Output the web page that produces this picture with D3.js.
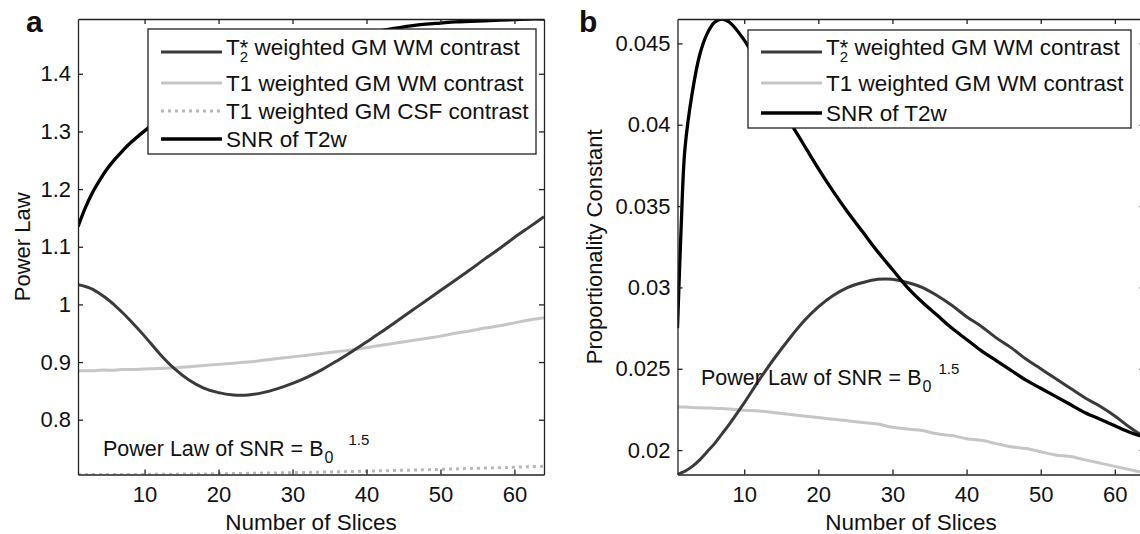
<!DOCTYPE html>
<html>
<head>
<meta charset="utf-8">
<script src="https://cdn.jsdelivr.net/npm/d3@7"></script>
<style>
    body { margin: 0; background: #fff; }
    svg { display: block; font-family: "Liberation Sans", Arial, sans-serif; }
    .axis path, .axis line { stroke: #222; stroke-width: 1.3; }
    .axis text { font-size: 22px; fill: #111; font-family: "Liberation Sans", Arial, sans-serif; }
</style>
</head>
<body>
<div id="chart"></div>
<script>
// panel a: power law vs number of slices
const slicesA = [1, 2, 3, 4, 5, 6, 7, 8, 10, 12, 14, 16, 18, 20, 22, 24, 26, 28, 30, 32, 34, 36, 38, 40, 42, 44, 46, 48, 50, 52, 54, 56, 58, 60, 62, 64];
const t2starA = [1.034, 1.031, 1.026, 1.018, 1.009, 0.998, 0.986, 0.973, 0.945, 0.915, 0.889, 0.869, 0.855, 0.847, 0.843, 0.843, 0.847, 0.854, 0.863, 0.874, 0.887, 0.902, 0.918, 0.935, 0.952, 0.97, 0.988, 1.006, 1.024, 1.042, 1.06, 1.079, 1.097, 1.116, 1.134, 1.152];
const t1wmA = [0.885, 0.885, 0.885, 0.886, 0.886, 0.886, 0.887, 0.887, 0.888, 0.889, 0.89, 0.892, 0.894, 0.896, 0.898, 0.9, 0.903, 0.906, 0.909, 0.912, 0.915, 0.918, 0.921, 0.925, 0.929, 0.933, 0.937, 0.941, 0.945, 0.95, 0.954, 0.959, 0.963, 0.968, 0.973, 0.977];
const t1csfA = [0.705, 0.705, 0.705, 0.705, 0.705, 0.705, 0.705, 0.705, 0.7052, 0.7054, 0.7056, 0.7058, 0.706, 0.7063, 0.7066, 0.707, 0.7074, 0.7078, 0.7082, 0.7087, 0.7092, 0.7097, 0.7102, 0.7108, 0.7114, 0.712, 0.7126, 0.7133, 0.714, 0.7147, 0.7154, 0.7161, 0.7169, 0.7177, 0.7185, 0.7193];
const snrA = [1.135, 1.168, 1.195, 1.217, 1.236, 1.252, 1.266, 1.279, 1.301, 1.321, 1.339, 1.355, 1.37, 1.383, 1.395, 1.406, 1.416, 1.425, 1.434, 1.442, 1.45, 1.457, 1.464, 1.47, 1.475, 1.479, 1.483, 1.486, 1.488, 1.49, 1.491, 1.492, 1.493, 1.494, 1.495, 1.495];

// panel b: proportionality constant vs number of slices
const slicesB = [1, 1.5, 2, 3, 4, 5, 6, 7, 8, 10, 12, 14, 16, 18, 20, 22, 24, 26, 28, 30, 32, 34, 36, 38, 40, 42, 44, 46, 48, 50, 52, 54, 56, 58, 60, 62, 64];
const t2starB = [0.0185, 0.0186, 0.0187, 0.019, 0.0194, 0.0199, 0.0204, 0.021, 0.0216, 0.0229, 0.0243, 0.0256, 0.0268, 0.0279, 0.0288, 0.0295, 0.03, 0.0303, 0.0305, 0.0305, 0.0303, 0.03, 0.0295, 0.0289, 0.0282, 0.0276, 0.0269, 0.0263, 0.0256, 0.025, 0.0244, 0.0238, 0.0232, 0.0227, 0.0221, 0.0214, 0.0208];
const t1wmB = [0.02265, 0.02265, 0.02265, 0.02262, 0.0226, 0.02259, 0.02258, 0.02256, 0.02253, 0.02245, 0.0224, 0.0223, 0.0222, 0.0221, 0.022, 0.0219, 0.0218, 0.0217, 0.0216, 0.0214, 0.0213, 0.0212, 0.021, 0.0209, 0.0207, 0.0206, 0.0204, 0.0202, 0.0201, 0.0199, 0.0197, 0.0196, 0.0194, 0.0192, 0.019, 0.0188, 0.0186];
const snrB = [0.0275, 0.0338, 0.0385, 0.042, 0.0443, 0.0456, 0.0463, 0.0465, 0.0463, 0.0452, 0.0436, 0.0419, 0.0403, 0.0388, 0.0373, 0.0359, 0.0346, 0.0334, 0.0322, 0.0311, 0.03, 0.0291, 0.0283, 0.0275, 0.0268, 0.0261, 0.0255, 0.0249, 0.0243, 0.0238, 0.0233, 0.0228, 0.0223, 0.0219, 0.0215, 0.0211, 0.0208];

const xTicks = [10, 20, 30, 40, 50, 60];
const yTicksA = [0.8, 0.9, 1, 1.1, 1.2, 1.3, 1.4];
const yTicksB = [0.02, 0.025, 0.03, 0.035, 0.04, 0.045];

const width = 1140, height = 534;

const svg = d3.select("#chart").append("svg")
    .attr("width", width)
    .attr("height", height);

svg.append("rect").attr("width", width).attr("height", height).attr("fill", "#fff");

const styles = {
    t2star: { stroke: "#3a3a3a", width: 3, dash: null },
    t1wm: { stroke: "#c6c6c6", width: 3, dash: null },
    t1csf: { stroke: "#b8b8b8", width: 3, dash: "3,4" },
    snr: { stroke: "#000", width: 3.3, dash: null }
};

function drawPanel(p) {
    const x = d3.scaleLinear().domain([1, 64]).range([p.left, p.right]);
    const y = d3.scaleLinear().domain(p.yDomain).range([p.bottom, p.top]);

    const clipId = "clip-" + p.letter;
    svg.append("clipPath").attr("id", clipId)
        .append("rect")
        .attr("x", p.left).attr("y", p.top)
        .attr("width", p.right - p.left).attr("height", p.bottom - p.top);

    const line = d3.line()
        .x(d => x(d[0]))
        .y(d => y(d[1]))
        .curve(d3.curveCatmullRom.alpha(0.5));

    const plot = svg.append("g").attr("clip-path", "url(#" + clipId + ")");
    p.series.forEach(s => {
        const st = styles[s.key];
        plot.append("path")
            .datum(p.slices.map((v, i) => [v, s.values[i]]))
            .attr("d", line)
            .attr("fill", "none")
            .attr("stroke", st.stroke)
            .attr("stroke-width", st.width)
            .attr("stroke-dasharray", st.dash)
            .attr("stroke-linejoin", "round");
    });

    // box with inward ticks on all sides (matlab style)
    svg.append("g").attr("class", "axis")
        .attr("transform", "translate(0," + p.bottom + ")")
        .call(d3.axisBottom(x).tickValues(xTicks).tickSizeInner(-5).tickSizeOuter(0).tickPadding(12));
    svg.append("g").attr("class", "axis")
        .attr("transform", "translate(0," + p.top + ")")
        .call(d3.axisTop(x).tickValues(xTicks).tickSizeInner(-5).tickSizeOuter(0).tickFormat(""));
    svg.append("g").attr("class", "axis")
        .attr("transform", "translate(" + p.left + ",0)")
        .call(d3.axisLeft(y).tickValues(p.yTicks).tickSizeInner(-5).tickSizeOuter(0).tickPadding(7).tickFormat(d3.format("~g")));
    svg.append("g").attr("class", "axis")
        .attr("transform", "translate(" + p.right + ",0)")
        .call(d3.axisRight(y).tickValues(p.yTicks).tickSizeInner(-5).tickSizeOuter(0).tickFormat(""));

    svg.append("text")
        .attr("x", (p.left + p.right) / 2)
        .attr("y", 530)
        .attr("text-anchor", "middle")
        .style("font-size", "22.5px")
        .style("fill", "#111")
        .text("Number of Slices");

    svg.append("text")
        .attr("transform", "translate(" + p.yLabelX + "," + ((p.top + p.bottom) / 2) + ") rotate(-90)")
        .attr("text-anchor", "middle")
        .style("font-size", "22px")
        .style("fill", "#111")
        .text(p.yLabel);

    svg.append("text")
        .attr("x", p.letterX).attr("y", 32)
        .style("font-size", "30px")
        .style("font-weight", "bold")
        .style("fill", "#111")
        .text(p.letter);

    // power law annotation
    const note = svg.append("text")
        .attr("x", p.noteX).attr("y", p.noteY)
        .style("font-size", "21.5px")
        .style("fill", "#111");
    note.append("tspan").text("Power Law of SNR = B");
    note.append("tspan").attr("dy", 7).attr("dx", 1).style("font-size", "16px").text("0");
    note.append("tspan").attr("dy", -18).attr("dx", p.noteSupDx).style("font-size", "15px").text("1.5");

    // legend
    const lg = p.legend;
    svg.append("rect")
        .attr("x", lg.x).attr("y", lg.y)
        .attr("width", lg.w).attr("height", lg.h)
        .attr("fill", "#fff")
        .attr("stroke", "#222")
        .attr("stroke-width", 1.3);

    p.series.slice().sort((a, b) => a.order - b.order).forEach((s, i) => {
        const st = styles[s.key];
        svg.append("line")
            .attr("x1", lg.x + 13).attr("x2", lg.x + 74)
            .attr("y1", lg.rows[i]).attr("y2", lg.rows[i])
            .attr("stroke", st.stroke)
            .attr("stroke-width", st.width)
            .attr("stroke-dasharray", st.dash);
        const t = svg.append("text")
            .attr("x", lg.x + 78).attr("y", lg.baselines[i])
            .style("font-size", "22.5px")
            .style("fill", "#111");
        if (s.key === "t2star") {
            t.append("tspan").text("T");
            t.append("tspan").attr("dy", 7).style("font-size", "15px").text("2");
            t.append("tspan").attr("dy", -7).attr("dx", -8.5).text("*");
            t.append("tspan").text(" weighted GM WM contrast");
        } else {
            t.text(s.label);
        }
    });
}

drawPanel({
    letter: "a", letterX: 26,
    left: 78, right: 544, top: 19, bottom: 474.5,
    yDomain: [0.705, 1.495], yTicks: yTicksA,
    yLabel: "Power Law", yLabelX: 30,
    slices: slicesA,
    series: [
        { key: "t1csf", values: t1csfA, order: 2, label: "T1 weighted GM CSF contrast" },
        { key: "t1wm", values: t1wmA, order: 1, label: "T1 weighted GM WM contrast" },
        { key: "t2star", values: t2starA, order: 0, label: "T2* weighted GM WM contrast" },
        { key: "snr", values: snrA, order: 3, label: "SNR of T2w" }
    ],
    noteX: 103, noteY: 456, noteSupDx: 15,
    legend: { x: 148, y: 29, w: 388, h: 125, rows: [52, 83, 111, 139], baselines: [55, 91, 119, 147] }
});

drawPanel({
    letter: "b", letterX: 579,
    left: 677.5, right: 1144.5, top: 19, bottom: 474.5,
    yDomain: [0.0185, 0.0465], yTicks: yTicksB,
    yLabel: "Proportionality Constant", yLabelX: 602,
    slices: slicesB,
    series: [
        { key: "t1wm", values: t1wmB, order: 1, label: "T1 weighted GM WM contrast" },
        { key: "t2star", values: t2starB, order: 0, label: "T2* weighted GM WM contrast" },
        { key: "snr", values: snrB, order: 2, label: "SNR of T2w" }
    ],
    noteX: 701, noteY: 385, noteSupDx: 7,
    legend: { x: 748, y: 30, w: 383, h: 98, rows: [52, 83, 113], baselines: [55, 91, 121] }
});
</script>
</body>
</html>
